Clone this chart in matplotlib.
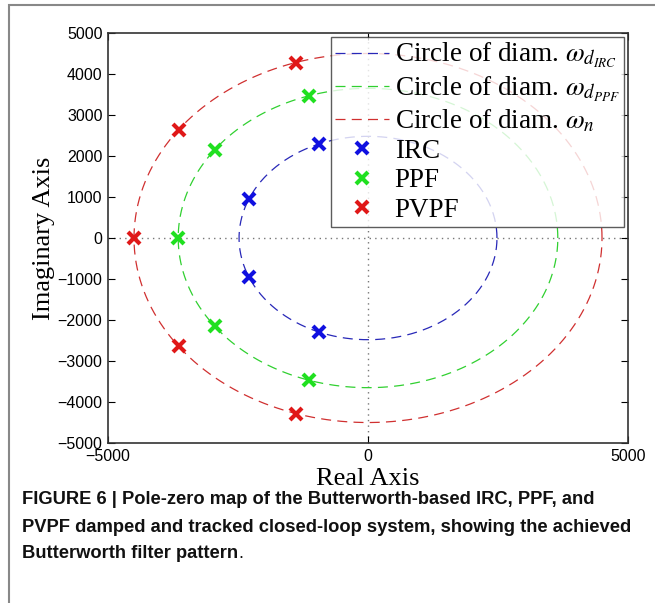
import matplotlib
matplotlib.use("Agg")
import matplotlib.pyplot as plt
import numpy as np
from matplotlib.patches import Rectangle

# pole locations (real, imag)
irc_re = [-950, -2290, -2290, -950]
irc_im = [2290, 950, -950, -2290]
ppf_re = [-1130, -2950, -3650, -2950, -1130]
ppf_im = [3470, 2145, 0, -2145, -3470]
pvpf_re = [-1390, -3640, -4500, -3640, -1390]
pvpf_im = [4280, 2645, 0, -2645, -4280]

# circle radii
r_irc = 2480
r_ppf = 3650
r_n = 4500

c_blue = "#1010e0"
c_green = "#20e020"
c_red = "#e01818"

plt.rcParams["mathtext.fontset"] = "stix"

fig = plt.figure(figsize=(6.55, 6.03), dpi=100)
ax = fig.add_axes([0.1649, 0.2653, 0.7939, 0.68])

theta = np.linspace(0, 2 * np.pi, 400)
ax.plot(r_irc * np.cos(theta), r_irc * np.sin(theta), color="#2828b8",
        lw=0.9, dashes=(8, 5), label=r"Circle of diam. $\omega_{d_{IRC}}$")
ax.plot(r_ppf * np.cos(theta), r_ppf * np.sin(theta), color="#30d030",
        lw=0.9, dashes=(8, 5), label=r"Circle of diam. $\omega_{d_{PPF}}$")
ax.plot(r_n * np.cos(theta), r_n * np.sin(theta), color="#d03030",
        lw=0.9, dashes=(8, 5), label=r"Circle of diam. $\omega_n$")

ax.plot(irc_re, irc_im, "x", color=c_blue, ms=9, mew=3, ls="none", label="IRC")
ax.plot(ppf_re, ppf_im, "x", color=c_green, ms=9, mew=3, ls="none", label="PPF")
ax.plot(pvpf_re, pvpf_im, "x", color=c_red, ms=9, mew=3, ls="none", label="PVPF")

# pzmap style axes through origin
ax.axhline(0, color="#777777", ls=(0, (1, 3)), lw=1, zorder=0)
ax.axvline(0, color="#777777", ls=(0, (1, 3)), lw=1, zorder=0)

ax.set_xlim(-5000, 5000)
ax.set_ylim(-5000, 5000)
ax.set_xticks([-5000, 0, 5000])
ax.set_yticks(np.arange(-5000, 5001, 1000))
ax.tick_params(direction="in", top=True, right=True, length=5, width=0.8,
               labelsize=11.5, pad=4)
for lab in ax.get_xticklabels() + ax.get_yticklabels():
    lab.set_family("Liberation Sans")
for sp in ax.spines.values():
    sp.set_linewidth(1.2)
    sp.set_color("#333333")

ax.set_xlabel("Real Axis", family="Liberation Serif", fontsize=19, labelpad=3)
ax.set_ylabel("Imaginary Axis", family="Liberation Serif", fontsize=19, labelpad=2)

leg = ax.legend(loc="upper right", prop={"family": "Liberation Serif", "size": 19.5},
                frameon=True, fancybox=False, edgecolor="#333333",
                handlelength=2.0, handletextpad=0.2, labelspacing=0.16,
                borderpad=0.15, borderaxespad=0.15)
leg.get_frame().set_linewidth(1.0)

# outer frame of the figure panel
fig.patches.append(Rectangle((9 / 655, -0.05), 1.1, 1 - 5 / 603 + 0.05,
                             transform=fig.transFigure, fill=False,
                             edgecolor="#888888", lw=1.5, clip_on=False))

# caption
cap_lines = [
    "FIGURE 6 | Pole-zero map of the Butterworth-based IRC, PPF, and",
    "PVPF damped and tracked closed-loop system, showing the achieved",
    "Butterworth filter pattern",
]
cap_y = [1 - 500 / 603, 1 - 527 / 603, 1 - 554 / 603]
last = None
for line, y in zip(cap_lines, cap_y):
    last = fig.text(22 / 655, y, line, family="Liberation Sans", weight="bold",
                    fontsize=13.2, va="center", ha="left", color="#111111")

fig.canvas.draw()
bb = last.get_window_extent()
fig.text(bb.x1 / fig.bbox.width, cap_y[-1], ".", family="Liberation Sans",
         fontsize=13.2, va="center", ha="left", color="#111111")

fig.savefig("out.png", dpi=100)
